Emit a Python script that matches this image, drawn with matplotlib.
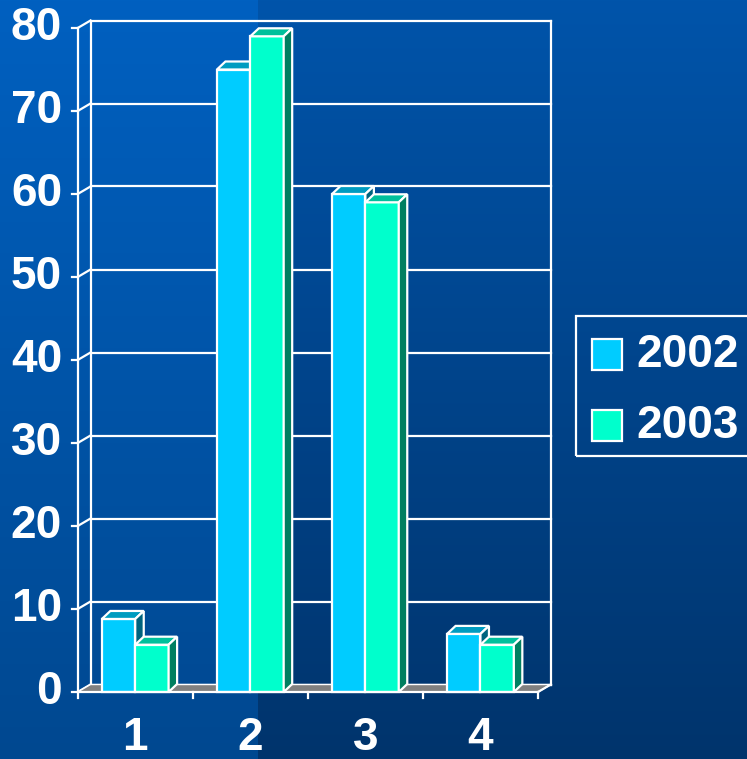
import numpy as np
import matplotlib.pyplot as plt
from matplotlib.patches import Polygon, Rectangle

categories = ['1', '2', '3', '4']
series_names = ['2002', '2003']
values_2002 = [8.8, 75, 60, 7]
values_2003 = [5.7, 79, 59, 5.7]
y_ticks = [0, 10, 20, 30, 40, 50, 60, 70, 80]

front_colors = ['#00ccff', '#00ffcc']
top_colors = ['#009cc0', '#00c09c']
side_colors = ['#00637e', '#007f60']

W, H = 747, 759
plt.rcParams['font.family'] = ['Liberation Sans', 'DejaVu Sans']
fig = plt.figure(figsize=(W / 100, H / 100), dpi=100)
ax = fig.add_axes([0, 0, 1, 1])

# front plot area in pixels: x=0.5..4.5 and y=0..80
x0_px, x1_px = 77.7, 538.0
y0_px, y1_px = 692.0, 28.0
sx = 4 / (x1_px - x0_px)
sy = 80 / (y0_px - y1_px)
xlim = (0.5 - x0_px * sx, 0.5 + (W - x0_px) * sx)
ylim = (-(H - y0_px) * sy, 80 + y1_px * sy)


def px(x, y):
    return 0.5 + (x - x0_px) * sx, (y0_px - y) * sy


# background gradient with the slide's vertical seam
yy = np.linspace(0, 1, H)[:, None, None]
xx = np.arange(W)[None, :, None]
tl, bl = np.array([0, 96, 192]), np.array([0, 72, 144])
tr, br = np.array([0, 84, 170]), np.array([0, 52, 108])
left = tl + (bl - tl) * yy
right = tr + (br - tr) * yy
bg = np.where(xx < 258, left, right) / 255.0
ax.imshow(bg, extent=(*xlim, *ylim), aspect='auto', zorder=0, origin='upper')
ax.set_xlim(*xlim)
ax.set_ylim(*ylim)
ax.axis('off')

lw = 1.6
wdx, wdy = 12.8 * sx, 7.5 * sy   # wall depth
bdx, bdy = 8.5 * sx, 8.0 * sy    # bar depth

# floor
ax.add_patch(Polygon([(0.5, 0), (4.5, 0), (4.5 + wdx, wdy), (0.5 + wdx, wdy)],
                     facecolor='#808080', edgecolor='white', lw=1.0, zorder=2))

# walls and gridlines
for v in y_ticks:
    ax.plot([0.5 + wdx, 4.5 + wdx], [v + wdy, v + wdy], color='white', lw=lw, zorder=1)
    ax.plot([0.5, 0.5 + wdx], [v, v + wdy], color='white', lw=lw, zorder=1)
    ax.plot([0.5 - 6 * sx, 0.5], [v, v], color='white', lw=lw, zorder=1)
    ax.text(0.5 - 15.7 * sx, v, str(v), ha='right', va='center', fontsize=33,
            fontweight='bold', color='white')
ax.plot([0.5 + wdx] * 2, [wdy, 80 + wdy], color='white', lw=lw, zorder=1)
ax.plot([4.5 + wdx] * 2, [wdy, 80 + wdy], color='white', lw=lw, zorder=1)
ax.plot([0.5, 0.5], [0, 80], color='white', lw=lw, zorder=5)
ax.plot([0.5, 4.5], [0, 0], color='white', lw=lw, zorder=5)
ax.plot([4.5, 4.5 + wdx], [0, wdy], color='white', lw=lw, zorder=2)

x = np.arange(1, len(categories) + 1)
for xt in np.arange(0.5, len(categories) + 1, 1.0):
    ax.plot([xt, xt], [0, -6 * sy], color='white', lw=lw, zorder=5)
for xi, lab in zip(x, categories):
    ax.text(xi, (y0_px - 738) * sy, lab, ha='center', va='center', fontsize=33,
            fontweight='bold', color='white')

# 3d-looking bars
bw = 0.29
for k, vals in enumerate([values_2002, values_2003]):
    lefts = x - bw + k * bw
    ax.bar(lefts, vals, bw, align='edge', color=front_colors[k], edgecolor='white',
           lw=lw, zorder=3 + k)
    for xl, h in zip(lefts, vals):
        ax.add_patch(Polygon([(xl, h), (xl + bw, h), (xl + bw + bdx, h + bdy), (xl + bdx, h + bdy)],
                             facecolor=top_colors[k], edgecolor='white', lw=lw, zorder=3 + k))
        ax.add_patch(Polygon([(xl + bw, 0), (xl + bw + bdx, bdy), (xl + bw + bdx, h + bdy), (xl + bw, h)],
                             facecolor=side_colors[k], edgecolor='white', lw=lw, zorder=3 + k))

# legend
bx0, by0 = px(575.5, 455.5)
bx1, by1 = px(760, 316)
ax.add_patch(Rectangle((bx0, by0), bx1 - bx0, by1 - by0, fill=False, edgecolor='white',
                       lw=1.6, zorder=6, clip_on=False))
for k, (name, cy) in enumerate(zip(series_names, [355, 425.5])):
    px0, py0 = px(592, cy + 15.5)
    px1, py1 = px(622, cy - 15.5)
    ax.add_patch(Rectangle((px0, py0), px1 - px0, py1 - py0, facecolor=front_colors[k],
                           edgecolor='white', lw=lw, zorder=6))
    tx, ty = px(636, cy)
    ax.text(tx, ty, name, ha='left', va='center', fontsize=33, fontweight='bold',
            color='white', zorder=6)

fig.savefig('out.png', dpi=100)
